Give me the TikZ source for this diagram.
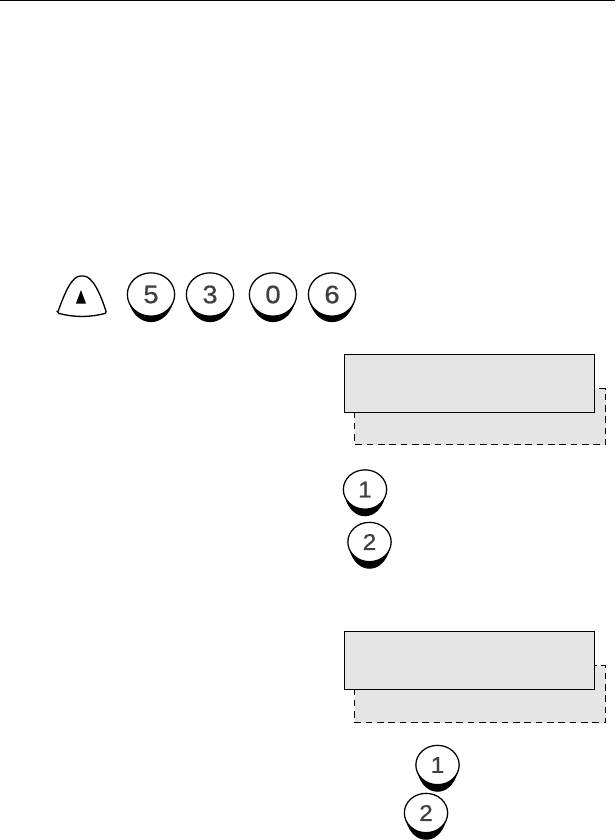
\documentclass[tikz,border=0pt]{standalone}
\usepackage{fontspec}
\setsansfont{Liberation Sans}
\newfontfamily\keyfont[FakeBold=0.7,FakeStretch=1.08]{Liberation Sans}
\usepackage{xcolor}
\usetikzlibrary{positioning,shapes.geometric}
\definecolor{lcdGrey}{HTML}{E5E5E5}
\definecolor{keyInk}{HTML}{404040}
\tikzset{
  panel diagram/.style={x=0.75pt, y=-0.75pt, font=\sffamily, line join=miter},
  lcd box/.style={draw=black, fill=lcdGrey, line width=1.1pt, minimum width=187.6pt,
    minimum height=43.5pt, inner sep=0pt, anchor=north west},
  lcd back/.style={draw=black, fill=lcdGrey, line width=0.95pt, dash pattern=on 5pt off 3.5pt},
  key/.style={ellipse, draw=black, fill=white, line width=0.95pt, minimum width=32.5pt,
    minimum height=29.5pt, inner sep=0pt, text=keyInk, font=\keyfont\fontsize{17}{17}\selectfont},
  big key/.style={key, minimum width=35.5pt, minimum height=32.5pt,
    font=\keyfont\fontsize{19}{19}\selectfont}
}
\begin{document}
\begin{tikzpicture}[panel diagram]
\useasboundingbox (0,0) rectangle (615,840);
\draw[line width=1pt] (0,0.5) -- (615,0.5);
% dial keys
\draw[line width=1pt, fill=white, rounded corners=1pt] (57.5,313)
  .. controls (65,292) and (72,276) .. (82,276)
  .. controls (92,276) and (100,292) .. (106.5,313)
  .. controls (90,317.5) and (74,317.5) .. cycle;
\fill (81,290) -- (76,303.5) -- (86,303.5) -- cycle;
\foreach \x/\lab/\nm in {151/5/a,210/3/b,273/0/c,332/6/d}{
  \fill (\x-22,303) .. controls (\x-14,328.5) and (\x+14,328.5) .. (\x+22,303) -- cycle;
  \node[big key] (key\nm) at (\x,294.5) {\lab};
}
\foreach \x/\y/\lab/\nm in {365/489.5/1/e,369.5/542/2/f,437.5/765/1/g,426/813/2/h}{
  \fill (\x-20,\y+8) .. controls (\x-13,\y+33) and (\x+13,\y+33) .. (\x+20,\y+8) -- cycle;
  \node[key] (key\nm) at (\x,\y) {\lab};
}
% display boxes
\draw[lcd back] (354.5,388.5) rectangle (605.5,444.5);
\node[lcd box] (lcdA) at (343.5,353.5) {};
\draw[lcd back] (354.5,665.5) rectangle (605.5,722.5);
\node[lcd box, line width=1.3pt] (lcdB) at (343.5,630.5) {};
\end{tikzpicture}
\end{document}
